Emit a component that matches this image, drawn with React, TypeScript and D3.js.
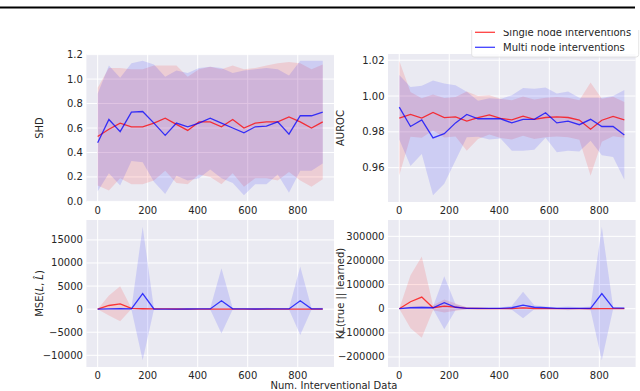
import React from "react";
import * as d3 from "d3";

// number of interventional samples (x values shared by all four panels)
const numInterventional = [0, 45, 90, 135, 180, 225, 270, 315, 360, 405, 450, 495, 540, 585, 630, 675, 720, 765, 810, 855, 900];
const xTicks = [0, 200, 400, 600, 800];

// SHD
const shdSingleMean = [0.53, 0.59, 0.64, 0.61, 0.61, 0.64, 0.68, 0.63, 0.58, 0.65, 0.65, 0.61, 0.67, 0.6, 0.64, 0.65, 0.65, 0.69, 0.65, 0.6, 0.65];
const shdSingleStd = [0.4, 0.5, 0.45, 0.47, 0.47, 0.47, 0.43, 0.48, 0.44, 0.43, 0.45, 0.47, 0.44, 0.48, 0.45, 0.46, 0.48, 0.45, 0.48, 0.48, 0.47];
const shdMultiMean = [0.48, 0.67, 0.57, 0.73, 0.735, 0.64, 0.54, 0.64, 0.61, 0.64, 0.68, 0.64, 0.6, 0.56, 0.61, 0.615, 0.65, 0.55, 0.7, 0.7, 0.73];
const shdMultiStd = [0.4, 0.44, 0.44, 0.4, 0.415, 0.48, 0.48, 0.43, 0.44, 0.45, 0.42, 0.45, 0.45, 0.51, 0.47, 0.475, 0.43, 0.48, 0.45, 0.45, 0.42];
const shdTicks = [0, 0.2, 0.4, 0.6, 0.8, 1.0, 1.2];

// AUROC
const aurocSingleMean = [0.9877, 0.9897, 0.9877, 0.9908, 0.9879, 0.9884, 0.986, 0.988, 0.9895, 0.9875, 0.9867, 0.9888, 0.987, 0.988, 0.9884, 0.988, 0.9866, 0.9815, 0.9865, 0.9886, 0.9867];
const aurocSingleStd = [0.032, 0.0125, 0.011, 0.01, 0.011, 0.011, 0.0165, 0.012, 0.011, 0.011, 0.011, 0.011, 0.011, 0.011, 0.011, 0.011, 0.011, 0.026, 0.012, 0.011, 0.01];
const aurocMultiMean = [0.9938, 0.983, 0.9867, 0.9766, 0.979, 0.985, 0.9897, 0.9873, 0.9873, 0.9873, 0.985, 0.987, 0.987, 0.9907, 0.985, 0.986, 0.984, 0.987, 0.983, 0.983, 0.9783];
const aurocMultiStd = [0.018, 0.022, 0.019, 0.032, 0.028, 0.021, 0.0127, 0.01, 0.0115, 0.011, 0.0155, 0.0175, 0.017, 0.014, 0.0164, 0.0165, 0.015, 0.012, 0.016, 0.017, 0.025];
const aurocTicks = [0.96, 0.98, 1.0, 1.02];

// MSE(L, L^)
const mseSingleMean = [0, 790, 1150, 150, 80, 60, 40, 30, 20, 20, 20, 20, 20, 20, 20, 20, 20, 20, 20, 20, 20];
const mseSingleStd = [0, 2160, 3800, 120, 150, 100, 80, 60, 50, 40, 40, 40, 40, 40, 40, 40, 40, 40, 40, 40, 40];
const mseMultiMean = [0, 60, 100, 50, 3390, 30, 20, 20, 30, 40, 50, 1800, 60, 40, 30, 50, 60, 40, 1800, 60, 70];
const mseMultiStd = [0, 150, 200, 150, 14480, 100, 80, 80, 100, 120, 150, 7060, 150, 100, 120, 250, 150, 120, 7420, 200, 250];
const mseTicks = [-10000, -5000, 0, 5000, 10000, 15000];

// KL(true || learned)
const klSingleMean = [0, 28800, 48000, 4000, 11000, 6800, 1500, 800, 600, 500, 500, 3000, 800, 600, 500, 500, 500, 400, 400, 400, 300];
const klSingleStd = [0, 110000, 168000, 10000, 27000, 15000, 5000, 2000, 1500, 1500, 1500, 4000, 2000, 1500, 1500, 2000, 1500, 6000, 2000, 1500, 1000];
const klMultiMean = [0, 4000, 5000, 4000, 24700, 6000, 1500, 1000, 1000, 1500, 4000, 15000, 6000, 4000, 1500, 1500, 1500, 1500, 63000, 3000, 2000];
const klMultiStd = [0, 5000, 6000, 5000, 110000, 12000, 4000, 3000, 3000, 3000, 8000, 55000, 8000, 5000, 4000, 8000, 4000, 8000, 277000, 5000, 3000];
const klTicks = [-200000, -100000, 0, 100000, 200000, 300000];

const legendLabels = ["Single node interventions", "Multi node interventions"];

const width = 640;
const height = 391;
const font = "DejaVu Sans, sans-serif";
const textColor = "#262626";
const panelBg = "#eaeaf2";
const singleColor = "#ff0000";
const multiColor = "#0000ff";
const cols = [
  { left: 86.4, right: 334 },
  { left: 388, right: 635.6 },
];
const rows = [
  { top: 54, bottom: 202 },
  { top: 220, bottom: 367 },
];

type PanelProps = {
  col: number;
  row: number;
  single: number[];
  singleStd: number[];
  multi: number[];
  multiStd: number[];
  yTicks: number[];
  fmt: (v: number) => string;
  label: React.ReactNode;
  labelX: number;
};

const Panel = ({ col, row, single, singleStd, multi, multiStd, yTicks, fmt, label, labelX }: PanelProps) => {
  const { left, right } = cols[col];
  const { top, bottom } = rows[row];

  const x = d3.scaleLinear().domain([-45, 945]).range([left, right]);

  // matplotlib-ish autoscale: data extent plus 5% margin
  const lows = single.map((m, i) => m - singleStd[i]).concat(multi.map((m, i) => m - multiStd[i]));
  const highs = single.map((m, i) => m + singleStd[i]).concat(multi.map((m, i) => m + multiStd[i]));
  const lo = d3.min(lows) as number;
  const hi = d3.max(highs) as number;
  const pad = (hi - lo) * 0.05;
  const y = d3.scaleLinear().domain([lo - pad, hi + pad]).range([bottom, top]);

  const band = (mean: number[], std: number[]) =>
    d3
      .area<number>()
      .x((_, i) => x(numInterventional[i]))
      .y0((m, i) => y(m - std[i]))
      .y1((m, i) => y(m + std[i]))(mean) || "";
  const path = (mean: number[]) =>
    d3
      .line<number>()
      .x((_, i) => x(numInterventional[i]))
      .y((m) => y(m))(mean) || "";

  const midY = (top + bottom) / 2;

  return (
    <g>
      <rect x={left} y={top} width={right - left} height={bottom - top} fill={panelBg} />
      {xTicks.map((t) => (
        <line key={"gx" + t} x1={x(t)} x2={x(t)} y1={top} y2={bottom} stroke="#fff" strokeWidth={1} />
      ))}
      {yTicks.map((t) => (
        <line key={"gy" + t} x1={left} x2={right} y1={y(t)} y2={y(t)} stroke="#fff" strokeWidth={1} />
      ))}
      <path d={band(single, singleStd)} fill={singleColor} fillOpacity={0.12} />
      <path d={band(multi, multiStd)} fill={multiColor} fillOpacity={0.12} />
      <path d={path(single)} fill="none" stroke={singleColor} strokeOpacity={0.75} strokeWidth={1.3} />
      <path d={path(multi)} fill="none" stroke={multiColor} strokeOpacity={0.75} strokeWidth={1.3} />
      {xTicks.map((t) => (
        <text key={"tx" + t} x={x(t)} y={bottom + 11.5} textAnchor="middle" fontSize={10} fill={textColor}>
          {t}
        </text>
      ))}
      {yTicks.map((t) => (
        <text key={"ty" + t} x={left - 3.5} y={y(t)} dy="0.35em" textAnchor="end" fontSize={10} fill={textColor}>
          {fmt(t)}
        </text>
      ))}
      <text
        transform={`translate(${labelX},${midY}) rotate(-90)`}
        textAnchor="middle"
        dy="0.35em"
        fontSize={10}
        fill={textColor}
      >
        {label}
      </text>
    </g>
  );
};

const App = () => {
  const legendTop = 24;
  return (
    <svg
      width={width}
      height={height}
      style={{ position: "absolute", left: 0, top: 0, background: "#fff" }}
      fontFamily={font}
    >
      <defs>
        <clipPath id="figClip">
          <rect x={0} y={30} width={width} height={height - 30} />
        </clipPath>
      </defs>
      <rect x={0} y={6.5} width={635} height={2} fill="#000" />

      <g clipPath="url(#figClip)">
        <Panel
          col={0}
          row={0}
          single={shdSingleMean}
          singleStd={shdSingleStd}
          multi={shdMultiMean}
          multiStd={shdMultiStd}
          yTicks={shdTicks}
          fmt={d3.format(".1f")}
          label="SHD"
          labelX={39}
        />
        <Panel
          col={1}
          row={0}
          single={aurocSingleMean}
          singleStd={aurocSingleStd}
          multi={aurocMultiMean}
          multiStd={aurocMultiStd}
          yTicks={aurocTicks}
          fmt={d3.format(".2f")}
          label="AUROC"
          labelX={340}
        />
        <Panel
          col={0}
          row={1}
          single={mseSingleMean}
          singleStd={mseSingleStd}
          multi={mseMultiMean}
          multiStd={mseMultiStd}
          yTicks={mseTicks}
          fmt={d3.format("d")}
          label={
            <>
              MSE(<tspan fontStyle="italic">L</tspan>, <tspan fontStyle="italic">{"L\u0302"}</tspan>)
            </>
          }
          labelX={39}
        />
        <Panel
          col={1}
          row={1}
          single={klSingleMean}
          singleStd={klSingleStd}
          multi={klMultiMean}
          multiStd={klMultiStd}
          yTicks={klTicks}
          fmt={d3.format("d")}
          label="KL(true || learned)"
          labelX={340}
        />

        {/* legend */}
        <g>
          <rect x={471.7} y={legendTop} width={167} height={57 - legendTop} rx={2.5} fill="#fff" fillOpacity={0.8} stroke="#dddddd" strokeWidth={0.8} />
          {legendLabels.map((lab, i) => {
            const cy = 32.3 + i * 15;
            return (
              <g key={lab}>
                <line x1={475} x2={495} y1={cy} y2={cy} stroke={i === 0 ? singleColor : multiColor} strokeOpacity={0.75} strokeWidth={1.3} />
                <text x={503} y={cy} dy="0.35em" fontSize={10} fill={textColor}>
                  {lab}
                </text>
              </g>
            );
          })}
        </g>

        <text x={334} y={389} textAnchor="middle" fontSize={10} fill={textColor}>
          Num. Interventional Data
        </text>
      </g>
    </svg>
  );
};

export default App;
